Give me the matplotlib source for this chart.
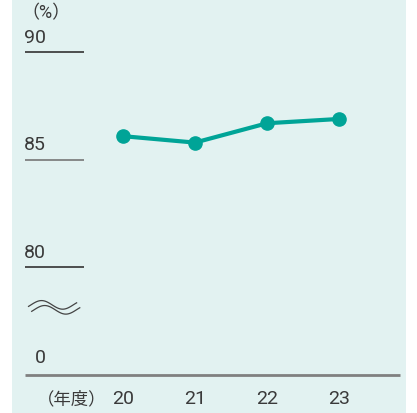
import matplotlib as mpl
mpl.use('Agg')
import numpy as np
import matplotlib.pyplot as plt

plt.rcParams['font.family'] = ['Roboto', 'Noto Sans CJK JP', 'DejaVu Sans']

years = ['20', '21', '22', '23']
rates = [86.1, 85.8, 86.7, 86.9]
grid_values = [90, 85, 80]
grid_colors = ['#333333', '#777777', '#333333']

bg = '#e2f2f1'
teal = '#00a497'
txt = '#3a3a3a'

fig = plt.figure(figsize=(4.17, 4.14), dpi=100)
ax = fig.add_axes([12 / 417, 0, 394 / 417, 1])
ax.set_facecolor(bg)
for s in ax.spines.values():
    s.set_visible(False)
ax.set_xticks([])
ax.set_yticks([])

# 1 unit = 21.5 px, 90 sits 53 px below the top
ax.set_ylim(73.22, 92.48)
ax.set_xlim(-1.533, 3.924)

x = np.arange(len(years))
ax.plot(x, rates, color=teal, lw=3, marker='o', ms=9.5, zorder=3)

ytr = ax.get_yaxis_transform()
for v, c in zip(grid_values, grid_colors):
    ax.hlines(v, 0.033, 0.183, transform=ytr, color=c, lw=1.2)
    ax.text(0.031, v + 0.5, str(v), transform=ytr, fontsize=14, color=txt,
            ha='left', va='baseline')

# baseline ("0")
base = 75
ax.hlines(base, 0.033, 0.985, transform=ytr, color='#808080', lw=2)
ax.text(0.059, base + 0.6, '0', transform=ytr, fontsize=14, color=txt,
        ha='left', va='baseline')
ax.text(0.024, 91.85, '（%）', transform=ytr, fontsize=13, color=txt,
        ha='left', va='center')

# break mark
t = np.linspace(0, 1, 60)
for dx, c in [(0.0, 78.25), (0.008, 78.02)]:
    wx = 0.042 + dx + t * 0.122
    ax.plot(wx, c + 0.2 * np.cos(2 * np.pi * (t - 0.27) / 0.88),
            transform=ytr, color='#444444', lw=0.9)

for xi, lab in zip(x, years):
    ax.text(xi, 73.9, lab, fontsize=14, color=txt, ha='center', va='center')
ax.text(0.064, 73.9, '（年度）', transform=ytr, fontsize=12.5, color=txt,
        ha='left', va='center')

fig.savefig('out.png', dpi=100)
